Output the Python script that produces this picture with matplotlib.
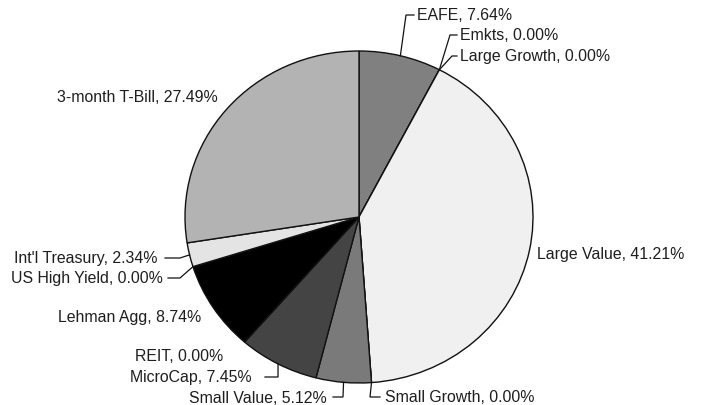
import numpy as np
import matplotlib.pyplot as plt

plt.rcParams['font.family'] = ['Liberation Sans', 'DejaVu Sans']

# Portfolio weights (percent), clockwise from 12 o'clock
assets = ["EAFE", "Emkts", "Large Growth", "Large Value", "Small Growth",
          "Small Value", "MicroCap", "REIT", "Lehman Agg", "US High Yield",
          "Int'l Treasury", "3-month T-Bill"]
weights = [7.64, 0.00, 0.00, 41.21, 0.00, 5.12, 7.45, 0.00, 8.74, 0.00, 2.34, 27.49]
shades = ["#808080", "#808080", "#808080", "#f0f0f0", "#7a7a7a", "#7a7a7a",
          "#444444", "#000000", "#000000", "#e4e4e4", "#e4e4e4", "#b3b3b3"]

# Pie geometry in pixels (the original is slightly wider than tall)
W, H = 701, 406
CX, CY, RX, RY = 359, 218, 174, 166

# label layout: text anchor (px), alignment, optional leader elbow/end (px)
layout = {
    "EAFE":           ((417, 15), "left",  [(406, 16), (414, 16)]),
    "Emkts":          ((460, 35), "left",  [(450, 36), (457, 36)]),
    "Large Growth":   ((460, 56), "left",  [(452, 57), (457, 57)]),
    "Large Value":    ((537, 255), "left", None),
    "Small Growth":   ((385, 398), "left", [(370, 398), (380, 398)]),
    "Small Value":    ((327, 399), "right", [(343, 398), (333, 398)]),
    "MicroCap":       ((252, 378), "right", [(278, 378), (265, 378)]),
    "REIT":           ((223, 357), "right", None),
    "Lehman Agg":     ((201, 318), "right", None),
    "US High Yield":  ((163, 279), "right", [(180, 279), (168, 279)]),
    "Int'l Treasury": ((158, 259), "right", [(180, 259), (165, 259)]),
    "3-month T-Bill": ((57, 98), "left", None),
}


def px(x, y):
    """pixel position -> data coords of the unit pie"""
    return (x - CX) / RX, (CY - y) / RY


fig = plt.figure(figsize=(W / 100, H / 100), dpi=100)
ax = fig.add_axes([0, 0, 1, 1])

ax.pie(weights, colors=shades, startangle=90, counterclock=False, radius=1,
       wedgeprops=dict(edgecolor="#111111", linewidth=1.0))
ax.set_aspect('auto')
ax.set_xlim(-CX / RX, (W - CX) / RX)
ax.set_ylim(-(H - CY) / RY, CY / RY)
ax.axis('off')

cum = np.cumsum([0] + weights[:-1])
total = sum(weights)
for name, w, c0 in zip(assets, weights, cum):
    mid = np.deg2rad(90 - 360 * (c0 + w / 2) / total)
    (tx, ty), ha, leader = layout[name]
    if leader is not None:
        pts = [(np.cos(mid), np.sin(mid))] + [px(*p) for p in leader]
        xs, ys = zip(*pts)
        ax.plot(xs, ys, color="#111111", lw=0.9, solid_joinstyle="miter")
    ax.text(*px(tx, ty), f"{name}, {w:.2f}%", ha=ha, va="center",
            fontsize=11.4, color="#1e1e1e")

fig.savefig("out.png", dpi=100)
